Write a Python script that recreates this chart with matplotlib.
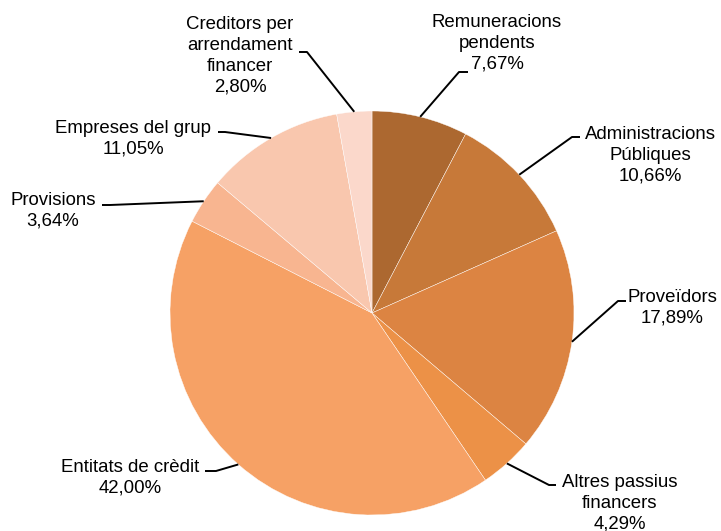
import numpy as np
import matplotlib.pyplot as plt

# composition of liabilities (%), clockwise from 12 o'clock
labels = ['Remuneracions\npendents', 'Administracions\nPúbliques', 'Proveïdors',
          'Altres passius\nfinancers', 'Entitats de crèdit', 'Provisions',
          'Empreses del grup', 'Creditors per\narrendament\nfinancer']
values = [7.67, 10.66, 17.89, 4.29, 42.00, 3.64, 11.05, 2.80]
colors = ['#AC6830', '#C77939', '#DC8442', '#EC9147', '#F6A165',
          '#F8B590', '#F9C7AE', '#FBD8CB']

# label layout in pixel coords (y from top): text centre, elbow, line end
text_xy = [(497, 43), (650, 155), (672, 308), (620, 503),
           (130, 478), (53, 211), (133, 139), (240, 56)]
elbow = [(459, 72), (572, 137), (618, 301), (549, 485),
         (216, 471), (110, 205), (225, 132), (307, 52)]
line_end = [(468, 72), (580, 137), (626, 301), (556, 485),
            (205, 471), (102, 205), (218, 132), (299, 52)]

W, H = 721, 531
cx, cy, R = 372, 313, 202

plt.rcParams['font.family'] = ['Liberation Sans', 'DejaVu Sans']

fig = plt.figure(figsize=(W / 100, H / 100), dpi=100)
ax = fig.add_axes([0, 0, 1, 1])
ax.axis('off')

wedges, _ = ax.pie(values, colors=colors, startangle=90, counterclock=False,
                   center=(cx, H - cy), radius=R,
                   wedgeprops=dict(edgecolor='white', linewidth=0.3))
ax.set_xlim(0, W)
ax.set_ylim(0, H)
ax.set_aspect('equal')

cum = np.cumsum([0] + values)
for i, lab in enumerate(labels):
    mid = np.deg2rad(90 - (cum[i] + values[i] / 2) * 3.6)
    ex = cx + R * np.cos(mid)
    ey = H - (cy - R * np.sin(mid))
    xs = [ex, elbow[i][0], line_end[i][0]]
    ys = [ey, H - elbow[i][1], H - line_end[i][1]]
    ax.plot(xs, ys, color='black', lw=1.4, solid_capstyle='butt')
    txt = lab + '\n' + f'{values[i]:.2f}'.replace('.', ',') + '%'
    ax.text(text_xy[i][0], H - text_xy[i][1], txt, ha='center', va='center',
            fontsize=13.4, linespacing=1.3, color='black')

fig.savefig('out.png', dpi=100)
